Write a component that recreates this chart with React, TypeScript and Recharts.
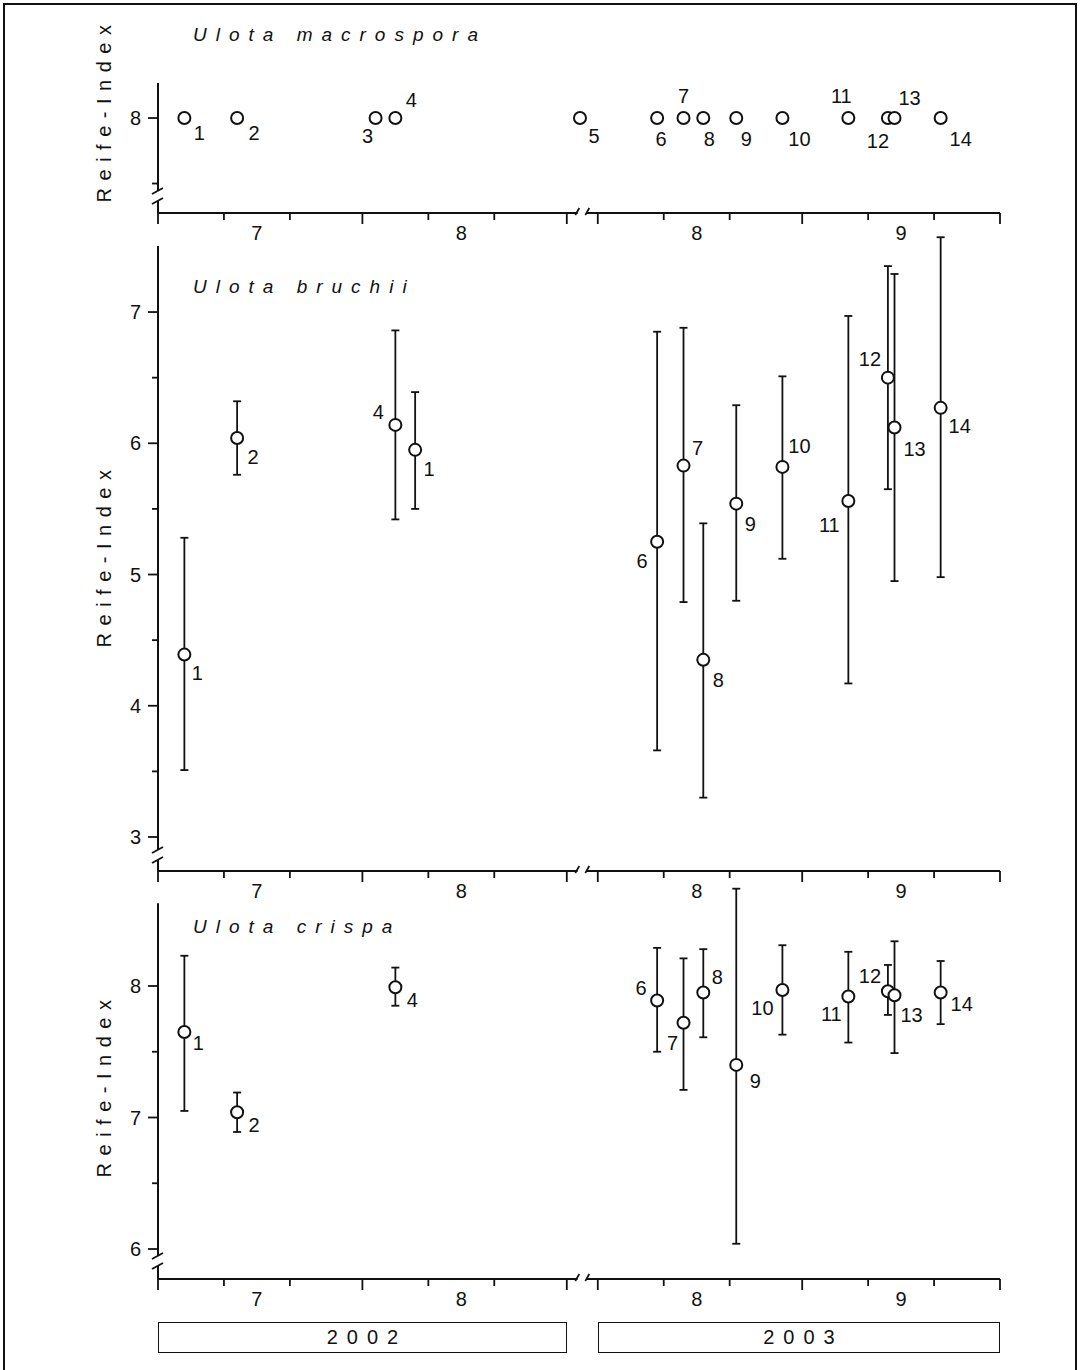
import React from "react";
import {
  ComposedChart,
  Scatter,
  ErrorBar,
  XAxis,
  YAxis,
  ReferenceLine,
  ReferenceDot,
} from "recharts";

const FONT = "'Liberation Sans', Arial, Helvetica, sans-serif";
const INK = "#111";

// time axis: 2002 runs 1.7.-1.9., 2003 runs 1.8.-1.10., cut in between
const SEASON_2002 = ["2002-07-01", "2002-09-01"];
const SEASON_2003 = ["2003-08-01", "2003-10-01"];
const GAP_DAYS = 4.7;

const TICK_DATES = [
  "2002-07-01", "2002-07-11", "2002-07-21", "2002-08-01", "2002-08-11", "2002-08-21", "2002-09-01",
  "2003-08-01", "2003-08-11", "2003-08-21", "2003-09-01", "2003-09-11", "2003-09-21", "2003-10-01",
];
const MONTH_START_DATES = ["2002-07-01", "2002-08-01", "2002-09-01", "2003-08-01", "2003-09-01", "2003-10-01"];
const MONTH_LABELS = ["7", "8", "8", "9"];
const MONTH_LABEL_DATES = ["2002-07-16", "2002-08-16", "2003-08-16", "2003-09-16"];

// Ulota macrospora
const MACRO_LABELS = ["1", "2", "3", "4", "5", "6", "7", "8", "9", "10", "11", "12", "13", "14"];
const MACRO_DATES = [
  "2002-07-05", "2002-07-13", "2002-08-03", "2002-08-06", "2002-09-03", "2003-08-10", "2003-08-14",
  "2003-08-17", "2003-08-22", "2003-08-29", "2003-09-08", "2003-09-14", "2003-09-15", "2003-09-22",
];
const MACRO_MEAN = [8, 8, 8, 8, 8, 8, 8, 8, 8, 8, 8, 8, 8, 8];

// Ulota bruchii
const BRUCHII_LABELS = ["1", "2", "4", "1", "6", "7", "8", "9", "10", "11", "12", "13", "14"];
const BRUCHII_DATES = [
  "2002-07-05", "2002-07-13", "2002-08-06", "2002-08-09", "2003-08-10", "2003-08-14", "2003-08-17",
  "2003-08-22", "2003-08-29", "2003-09-08", "2003-09-14", "2003-09-15", "2003-09-22",
];
const BRUCHII_MEAN = [4.39, 6.04, 6.14, 5.95, 5.25, 5.83, 4.35, 5.54, 5.82, 5.56, 6.5, 6.12, 6.27];
const BRUCHII_HIGH = [5.28, 6.32, 6.86, 6.39, 6.85, 6.88, 5.39, 6.29, 6.51, 6.97, 7.35, 7.29, 7.57];
const BRUCHII_LOW = [3.51, 5.76, 5.42, 5.5, 3.66, 4.79, 3.3, 4.8, 5.12, 4.17, 5.65, 4.95, 4.98];

// Ulota crispa
const CRISPA_LABELS = ["1", "2", "4", "6", "7", "8", "9", "10", "11", "12", "13", "14"];
const CRISPA_DATES = [
  "2002-07-05", "2002-07-13", "2002-08-06", "2003-08-10", "2003-08-14", "2003-08-17",
  "2003-08-22", "2003-08-29", "2003-09-08", "2003-09-14", "2003-09-15", "2003-09-22",
];
const CRISPA_MEAN = [7.65, 7.04, 7.99, 7.89, 7.72, 7.95, 7.4, 7.97, 7.92, 7.96, 7.93, 7.95];
const CRISPA_HIGH = [8.23, 7.19, 8.14, 8.29, 8.21, 8.28, 8.74, 8.31, 8.26, 8.16, 8.34, 8.19];
const CRISPA_LOW = [7.05, 6.89, 7.85, 7.5, 7.21, 7.61, 6.04, 7.63, 7.57, 7.78, 7.49, 7.71];

// where each number sits next to its circle (px)
const MACRO_LABEL_OFFSETS = [
  [15, 15], [17, 15], [-8, 18], [16, -18], [14, 18], [4, 21], [0, -22],
  [6, 21], [10, 21], [17, 21], [-7, -22], [-10, 23], [15, -20], [20, 21],
];
const BRUCHII_LABEL_OFFSETS = [
  [13, 18], [16, 19], [-17, -13], [14, 19], [-15, 19], [14, -18], [15, 20],
  [14, 20], [17, -21], [-19, 24], [-18, -19], [20, 21], [19, 18],
];
const CRISPA_LABEL_OFFSETS = [
  [14, 11], [17, 13], [17, 13], [-16, -12], [-11, 20], [14, -16],
  [19, 16], [-20, 18], [-17, 17], [-18, -15], [17, 20], [21, 11],
];

function dayNum(d: string) {
  return Date.UTC(+d.slice(0, 4), +d.slice(5, 7) - 1, +d.slice(8, 10)) / 86400000;
}
const LEN_2002 = dayNum(SEASON_2002[1]) - dayNum(SEASON_2002[0]);
const START_2003 = LEN_2002 + GAP_DAYS;
const X_END = START_2003 + dayNum(SEASON_2003[1]) - dayNum(SEASON_2003[0]);
const X_BREAK = LEN_2002 + GAP_DAYS / 2;

function toAxis(d: string) {
  if (d.startsWith("2003")) return START_2003 + dayNum(d) - dayNum(SEASON_2003[0]);
  return dayNum(d) - dayNum(SEASON_2002[0]);
}

const TICK_POS = TICK_DATES.map(toAxis);
const MAJOR_POS = MONTH_START_DATES.map(toAxis);
const LABEL_POS = MONTH_LABEL_DATES.map(toAxis);

function XTick(props: any) {
  const { x, y, payload } = props;
  const li = LABEL_POS.indexOf(payload.value);
  if (li >= 0) {
    return (
      <text x={x} y={y + 20} textAnchor="middle" dominantBaseline="central" fontSize={20} fill={INK} fontFamily={FONT}>
        {MONTH_LABELS[li]}
      </text>
    );
  }
  const len = MAJOR_POS.includes(payload.value) ? 11 : 7;
  return <line x1={x} x2={x} y1={y} y2={y + len} stroke={INK} strokeWidth={1.8} />;
}

function YTick(props: any) {
  const { x, y, payload } = props;
  const major = Number.isInteger(payload.value);
  return (
    <g>
      <line x1={x - (major ? 10 : 6)} x2={x} y1={y} y2={y} stroke={INK} strokeWidth={1.8} />
      {major && (
        <text x={x - 17} y={y} textAnchor="end" dominantBaseline="central" fontSize={20} fill={INK} fontFamily={FONT}>
          {payload.value}
        </text>
      )}
    </g>
  );
}

function XBreak(props: any) {
  const { cx, cy } = props;
  return (
    <g stroke={INK} strokeWidth={1.7}>
      <line x1={cx - 7} y1={cy + 2} x2={cx - 3} y2={cy - 5} />
      <line x1={cx + 3} y1={cy + 2} x2={cx + 7} y2={cy - 5} />
    </g>
  );
}

function YBreak(props: any) {
  const { cx, cy } = props;
  return (
    <g stroke={INK} strokeWidth={1.7}>
      <line x1={cx - 6} y1={cy - 2} x2={cx + 5} y2={cy - 8} />
      <line x1={cx - 6} y1={cy + 8} x2={cx + 5} y2={cy + 2} />
    </g>
  );
}

type PanelProps = {
  title: string;
  labels: string[];
  dates: string[];
  mean: number[];
  high?: number[];
  low?: number[];
  labelOffsets: number[][];
  top: number;
  axisY: number;
  yDomain: [number, number];
  yTicks: number[];
  yAxisTop: number;
  yBreak: number;
  titleY: number;
  yLabelY: number;
};

function Panel(p: PanelProps) {
  const rows = p.labels.map((lab, i) => ({
    x: toAxis(p.dates[i]),
    y: p.mean[i],
    err: p.high && p.low ? [p.mean[i] - p.low[i], p.high[i] - p.mean[i]] : undefined,
    label: lab,
    i,
  }));
  const plotH = p.axisY - p.top;
  const half = 5 / (plotH / (p.yDomain[1] - p.yDomain[0]));
  const yMin = p.yDomain[0];
  const xGap = 0.7;

  const drawPoint = (props: any) => {
    const { cx, cy, payload } = props;
    const [dx, dy] = p.labelOffsets[payload.i];
    return (
      <g>
        <circle cx={cx} cy={cy} r={6} fill="#fff" stroke={INK} strokeWidth={2} />
        <text x={cx + dx} y={cy + dy} textAnchor="middle" dominantBaseline="central" fontSize={20} fill={INK} fontFamily={FONT}>
          {payload.label}
        </text>
      </g>
    );
  };

  return (
    <>
      <div style={{ position: "absolute", left: 0, top: p.top }}>
        <ComposedChart width={1087} height={plotH + 40} margin={{ top: 0, right: 87, bottom: 0, left: 0 }}>
          <XAxis
            dataKey="x"
            type="number"
            domain={[0, X_END]}
            allowDataOverflow
            ticks={[...TICK_POS, ...LABEL_POS]}
            interval={0}
            axisLine={false}
            tickLine={false}
            tickSize={0}
            tickMargin={0}
            tick={XTick}
            height={40}
          />
          <YAxis
            dataKey="y"
            type="number"
            domain={p.yDomain}
            allowDataOverflow
            ticks={p.yTicks}
            interval={0}
            axisLine={false}
            tickLine={false}
            tickSize={0}
            tickMargin={0}
            tick={YTick}
            width={158}
          />
          <ReferenceLine segment={[{ x: 0, y: yMin }, { x: X_BREAK - xGap, y: yMin }]} stroke={INK} strokeWidth={2} ifOverflow="visible" />
          <ReferenceLine segment={[{ x: X_BREAK + xGap, y: yMin }, { x: X_END, y: yMin }]} stroke={INK} strokeWidth={2} ifOverflow="visible" />
          <ReferenceLine segment={[{ x: 0, y: p.yAxisTop }, { x: 0, y: p.yBreak + half }]} stroke={INK} strokeWidth={2} ifOverflow="visible" />
          <ReferenceLine segment={[{ x: 0, y: p.yBreak - half }, { x: 0, y: yMin }]} stroke={INK} strokeWidth={2} ifOverflow="visible" />
          <ReferenceDot x={X_BREAK} y={yMin} r={0} shape={XBreak} ifOverflow="visible" />
          <ReferenceDot x={0} y={p.yBreak} r={0} shape={YBreak} ifOverflow="visible" />
          <Scatter data={rows} dataKey="y" shape={drawPoint} isAnimationActive={false}>
            {p.high && <ErrorBar dataKey="err" direction="y" width={4} stroke={INK} strokeWidth={1.8} />}
          </Scatter>
        </ComposedChart>
      </div>
      <div
        style={{
          position: "absolute",
          left: 193,
          top: p.titleY,
          transform: "translateY(-50%)",
          fontStyle: "italic",
          fontSize: 19,
          letterSpacing: 9,
          whiteSpace: "nowrap",
          color: INK,
        }}
      >
        {p.title}
      </div>
      <div
        style={{
          position: "absolute",
          left: 104,
          top: p.yLabelY,
          transform: "translate(-50%, -50%) rotate(-90deg)",
          fontSize: 20,
          letterSpacing: 7.5,
          whiteSpace: "nowrap",
          color: INK,
        }}
      >
        Reife-Index
      </div>
    </>
  );
}

const yearBox = (left: number, width: number): React.CSSProperties => ({
  position: "absolute",
  left,
  top: 1322,
  width,
  height: 31,
  boxSizing: "border-box",
  border: `1.8px solid ${INK}`,
  display: "flex",
  alignItems: "center",
  justifyContent: "center",
  fontSize: 20,
  letterSpacing: 9,
  paddingLeft: 9,
  color: INK,
});

export default function App() {
  return (
    <div
      style={{
        position: "absolute",
        left: 0,
        top: 0,
        width: 1087,
        height: 1370,
        background: "#fff",
        fontFamily: FONT,
        overflow: "hidden",
      }}
    >
      <div style={{ position: "absolute", left: 3, top: 3, width: 1074, height: 1380, border: `2px solid ${INK}`, boxSizing: "border-box" }} />
      <Panel
        title="Ulota macrospora"
        labels={MACRO_LABELS}
        dates={MACRO_DATES}
        mean={MACRO_MEAN}
        labelOffsets={MACRO_LABEL_OFFSETS}
        top={60}
        axisY={213}
        yDomain={[7.275, 8.443]}
        yTicks={[7.5, 8]}
        yAxisTop={8.267}
        yBreak={7.405}
        titleY={35}
        yLabelY={110}
      />
      <Panel
        title="Ulota bruchii"
        labels={BRUCHII_LABELS}
        dates={BRUCHII_DATES}
        mean={BRUCHII_MEAN}
        high={BRUCHII_HIGH}
        low={BRUCHII_LOW}
        labelOffsets={BRUCHII_LABEL_OFFSETS}
        top={235}
        axisY={871}
        yDomain={[2.741, 7.587]}
        yTicks={[3, 3.5, 4, 4.5, 5, 5.5, 6, 6.5, 7]}
        yAxisTop={7.503}
        yBreak={2.863}
        titleY={287}
        yLabelY={555}
      />
      <Panel
        title="Ulota crispa"
        labels={CRISPA_LABELS}
        dates={CRISPA_DATES}
        mean={CRISPA_MEAN}
        high={CRISPA_HIGH}
        low={CRISPA_LOW}
        labelOffsets={CRISPA_LABEL_OFFSETS}
        top={880}
        axisY={1279}
        yDomain={[5.772, 8.806]}
        yTicks={[6, 6.5, 7, 7.5, 8]}
        yAxisTop={8.63}
        yBreak={5.909}
        titleY={927}
        yLabelY={1085}
      />
      <div style={yearBox(158, 409)}>2002</div>
      <div style={yearBox(598, 402)}>2003</div>
    </div>
  );
}
